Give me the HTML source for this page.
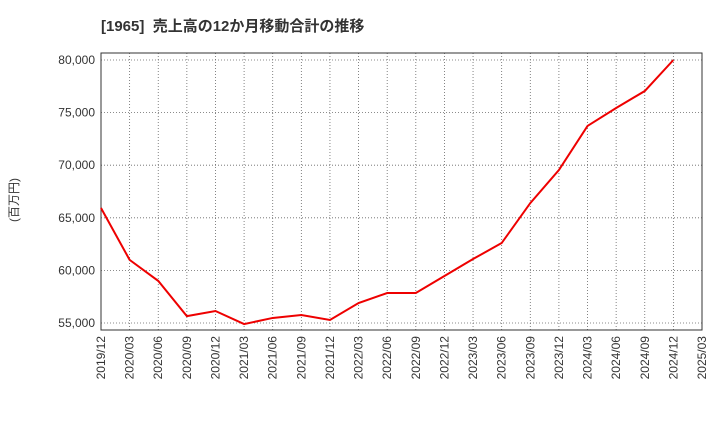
<!DOCTYPE html>
<html><head><meta charset="utf-8"><style>
body{margin:0;background:#fff;font-family:"Liberation Sans","Noto Sans CJK JP",sans-serif;}
</style></head><body>
<svg width="720" height="440" viewBox="0 0 720 440">
<text x="101" y="31" font-size="15" font-weight="bold" fill="#333" xml:space="preserve">[1965]  売上高の12か月移動合計の推移</text>
<text x="18" y="200" font-size="12" fill="#333" transform="rotate(-90 18 200)" text-anchor="middle">(百万円)</text>
<g id="grid"></g><g id="axes"></g>
<rect x="101" y="53" width="601" height="277" fill="none" stroke="#333" stroke-width="1"/>
<polyline id="line" fill="none" stroke="#e00" stroke-width="2"/>
</svg>
<script>
const categories=["2019/12","2020/03","2020/06","2020/09","2020/12","2021/03","2021/06","2021/09","2021/12","2022/03","2022/06","2022/09","2022/12","2023/03","2023/06","2023/09","2023/12","2024/03","2024/06","2024/09","2024/12","2025/03"];
const values=[65930,61000,59000,55650,56140,54900,55480,55760,55290,56900,57850,57850,59470,61080,62600,66400,69540,73730,75440,77050,80000];
const yTicks=[55000,60000,65000,70000,75000,80000];
const yTickLabels=["55,000","60,000","65,000","70,000","75,000","80,000"];
const x0=101,x1=702,yTop=53,yBot=330,vMin=54334,vMax=80665;
const xs=i=>x0+i*(x1-x0)/(categories.length-1);
const ys=v=>yBot-(v-vMin)/(vMax-vMin)*(yBot-yTop);
const NS="http://www.w3.org/2000/svg";
const grid=document.getElementById('grid'),axes=document.getElementById('axes');
function mk(tag,attrs,parent){const e=document.createElementNS(NS,tag);for(const k in attrs)e.setAttribute(k,attrs[k]);parent.appendChild(e);return e;}
categories.forEach((c,i)=>{
  const x=xs(i);
  const g=mk('line',{x1:x,x2:x,y1:yTop,y2:yBot,stroke:'#666','stroke-width':0.8,'stroke-dasharray':'1,2'},grid);
  
  
  const t=mk('text',{x:x+4,y:yBot+6,'font-size':12,fill:'#333','text-anchor':'end',transform:`rotate(-90 ${x+4} ${yBot+6})`},axes);
  t.textContent=c;
  
  
});
yTicks.forEach((v,i)=>{
  const y=ys(v);
  const g=mk('line',{x1:x0,x2:x1,y1:y,y2:y,stroke:'#666','stroke-width':0.8,'stroke-dasharray':'1,2'},grid);
  
  
  const t=mk('text',{x:x0-6,y:y+4,'font-size':12,fill:'#333','text-anchor':'end'},axes);
  t.textContent=yTickLabels[i];
  
  
});
document.getElementById('line').setAttribute('points',values.map((v,i)=>xs(i)+','+ys(v)).join(' '));
</script>
</body></html>
